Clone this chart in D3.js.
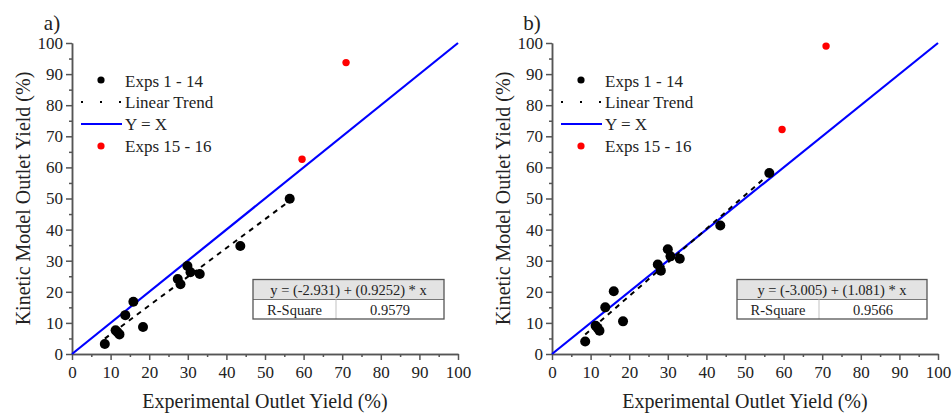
<!DOCTYPE html>
<meta charset="utf-8">
<head>
  <style>
    body { margin: 0; background: #fff; }
    svg text { font-family: "Liberation Serif", "Times New Roman", serif; fill: #222; }
    .axis path, .axis line { stroke: #555; stroke-width: 1.5px; }
  </style>
  <script src="https://d3js.org/d3.v7.min.js"></script>
</head>
<body>
<svg width="952" height="415"></svg>
<script>
// Exps 1 - 14, panel a)
var expA = [8.5, 11.3, 11.8, 12.3, 13.8, 15.9, 18.4, 27.4, 28.1, 29.9, 30.7, 33.1, 43.6, 56.4];
var modA = [3.2, 7.6, 7.0, 6.3, 12.5, 16.8, 8.7, 24.1, 22.4, 28.3, 26.3, 25.7, 34.7, 49.9];
// Exps 1 - 14, panel b)
var expB = [8.6, 11.3, 11.8, 12.3, 13.8, 16.0, 18.4, 27.4, 28.2, 30.0, 30.7, 33.1, 43.6, 56.3];
var modB = [4.0, 9.1, 8.4, 7.5, 15.0, 20.2, 10.5, 28.8, 26.8, 33.7, 31.4, 30.6, 41.3, 58.2];
// Exps 15 - 16
var extraExp = [59.6, 71.0];
var extraA = [62.6, 93.7];
var extraB = [72.2, 99.0];
// linear fits [intercept, slope, R-square]
var fitA = [-2.931, 0.9252, "0.9579"];
var fitB = [-3.005, 1.081, "0.9566"];
var fitText = ["y = (-2.931) + (0.9252) * x", "y = (-3.005) + (1.081) * x"];
var legendLabels = ["Exps 1 - 14", "Linear Trend", "Y = X", "Exps 15 - 16"];
var ticks = d3.range(0, 101, 10);
var minorTicks = d3.range(5, 100, 10);

var svg = d3.select("svg");
var serif = "'Liberation Serif', 'Times New Roman', serif";

var panels = [
  {label: "a)", x0: 72, exp: expA, mod: modA, red: extraA, fit: fitA, txt: fitText[0], tbl: [253, 336, 444]},
  {label: "b)", x0: 552, exp: expB, mod: modB, red: extraB, fit: fitB, txt: fitText[1], tbl: [737, 819, 927]}
];

panels.forEach(function(p) {
  var x = d3.scaleLinear().domain([0, 100]).range([p.x0, p.x0 + 386]);
  var y = d3.scaleLinear().domain([0, 100]).range([354, 43]);
  var g = svg.append("g");

  // minor ticks
  g.append("g").attr("class", "axis").attr("transform", "translate(0,354)")
    .call(d3.axisBottom(x).tickValues(minorTicks).tickSize(3).tickSizeOuter(0).tickFormat(""));
  g.append("g").attr("class", "axis").attr("transform", "translate(" + p.x0 + ",0)")
    .call(d3.axisLeft(y).tickValues(minorTicks).tickSize(3).tickSizeOuter(0).tickFormat(""));
  // major ticks
  var xa = g.append("g").attr("class", "axis").attr("transform", "translate(0,354)")
    .call(d3.axisBottom(x).tickValues(ticks).tickSize(6).tickSizeOuter(0));
  xa.selectAll("text").attr("dy", "0.9em");
  var ya = g.append("g").attr("class", "axis").attr("transform", "translate(" + p.x0 + ",0)")
    .call(d3.axisLeft(y).tickValues(ticks).tickSize(6).tickSizeOuter(0));
  ya.selectAll("text").attr("x", -9);
  g.selectAll(".axis").attr("font-family", serif).attr("font-size", 17);
  g.selectAll(".axis text").style("font-family", serif).style("font-size", "17px").attr("fill", "#222");

  // titles
  g.append("text").attr("x", x(50)).attr("y", 408).attr("text-anchor", "middle")
    .style("font-size", "20px").text("Experimental Outlet Yield (%)");
  g.append("text").attr("transform", "translate(" + (p.x0 - 42) + "," + y(50) + ") rotate(-90)")
    .attr("text-anchor", "middle").style("font-size", "20px").text("Kinetic Model Outlet Yield (%)");
  g.append("text").attr("x", p.x0 - 20).attr("y", 30).attr("text-anchor", "middle")
    .style("font-size", "21px").text(p.label);

  // Y = X
  g.append("line").attr("x1", x(0)).attr("y1", y(0)).attr("x2", x(100)).attr("y2", y(100))
    .attr("stroke", "#0000ff").attr("stroke-width", 2.2);

  // linear trend
  var xmin = d3.min(p.exp), xmax = d3.max(p.exp);
  g.append("line")
    .attr("x1", x(xmin)).attr("y1", y(p.fit[0] + p.fit[1] * xmin))
    .attr("x2", x(xmax)).attr("y2", y(p.fit[0] + p.fit[1] * xmax))
    .attr("stroke", "#000").attr("stroke-width", 2).attr("stroke-dasharray", "5,5");

  // points
  g.selectAll(".pt").data(p.exp).enter().append("circle")
    .attr("cx", function(d) { return x(d); })
    .attr("cy", function(d, i) { return y(p.mod[i]); })
    .attr("r", 5).attr("fill", "#000");
  g.selectAll(".rpt").data(extraExp).enter().append("circle")
    .attr("cx", function(d) { return x(d); })
    .attr("cy", function(d, i) { return y(p.red[i]); })
    .attr("r", 3.7).attr("fill", "#ff0000");

  // legend
  var lx = p.x0 + 9, ly = [81, 102, 124, 146];
  g.append("circle").attr("cx", lx + 20).attr("cy", ly[0] - 1).attr("r", 3.6).attr("fill", "#000");
  g.append("line").attr("x1", lx).attr("x2", lx + 41).attr("y1", ly[1]).attr("y2", ly[1])
    .attr("stroke", "#000").attr("stroke-width", 2).attr("stroke-dasharray", "2,17");
  g.append("line").attr("x1", lx).attr("x2", lx + 41).attr("y1", ly[2]).attr("y2", ly[2])
    .attr("stroke", "#0000ff").attr("stroke-width", 2.2);
  g.append("circle").attr("cx", lx + 20).attr("cy", ly[3]).attr("r", 3.6).attr("fill", "#ff0000");
  g.selectAll(".leg").data(legendLabels).enter().append("text")
    .attr("x", lx + 44).attr("y", function(d, i) { return ly[i] + 6; })
    .style("font-size", "17px").text(function(d) { return d; });

  // fit table
  var t = p.tbl;
  g.append("rect").attr("x", t[0]).attr("y", 279.5).attr("width", t[2] - t[0]).attr("height", 20)
    .attr("fill", "#e3e3e3");
  g.append("line").attr("x1", t[0]).attr("x2", t[2]).attr("y1", 299.5).attr("y2", 299.5)
    .attr("stroke", "#777").attr("stroke-width", 1);
  g.append("line").attr("x1", t[1]).attr("x2", t[1]).attr("y1", 299.5).attr("y2", 319)
    .attr("stroke", "#ccc").attr("stroke-width", 1.2);
  g.append("rect").attr("x", t[0]).attr("y", 279.5).attr("width", t[2] - t[0]).attr("height", 39.5)
    .attr("fill", "none").attr("stroke", "#555").attr("stroke-width", 1.3);
  g.append("text").attr("x", (t[0] + t[2]) / 2).attr("y", 294.5).attr("text-anchor", "middle")
    .style("font-size", "14.5px").text(p.txt);
  g.append("text").attr("x", (t[0] + t[1]) / 2).attr("y", 314.5).attr("text-anchor", "middle")
    .style("font-size", "14.5px").text("R-Square");
  g.append("text").attr("x", (t[1] + t[2]) / 2).attr("y", 314.5).attr("text-anchor", "middle")
    .style("font-size", "14.5px").text(p.fit[2]);
});
</script>
</body>
